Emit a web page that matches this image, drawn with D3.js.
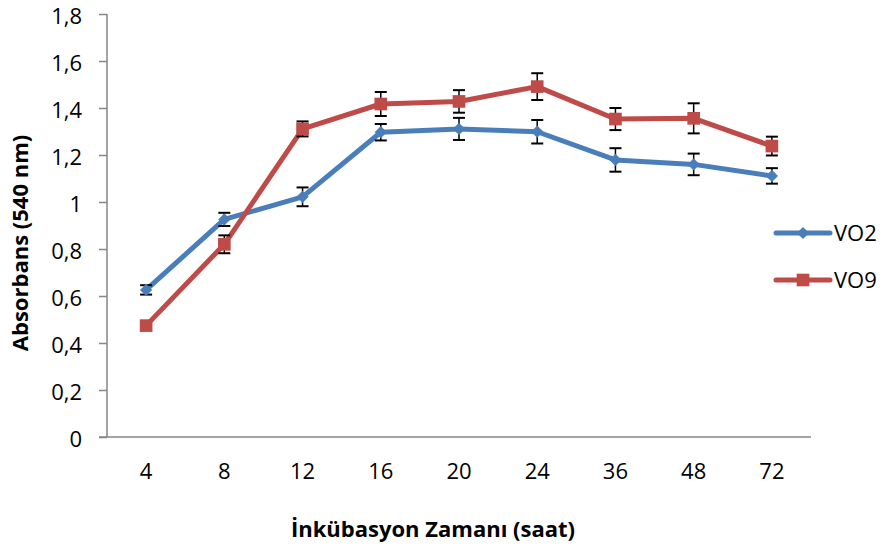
<!DOCTYPE html>
<html>
<head>
<meta charset="utf-8">
<script src="https://cdn.jsdelivr.net/npm/d3@7"></script>
<style>
  body { margin: 0; background: #fff; }
  text { font-family: "Open Sans", "Noto Sans", sans-serif; fill: #000; }
</style>
</head>
<body>
<script>
'use strict';

var hours   = ['4', '8', '12', '16', '20', '24', '36', '48', '72'];
var vo2     = [0.626, 0.926, 1.022, 1.297, 1.311, 1.299, 1.179, 1.160, 1.111];
var vo2Err  = [0.020, 0.028, 0.040, 0.035, 0.047, 0.050, 0.050, 0.046, 0.033];
var vo9     = [0.474, 0.820, 1.311, 1.417, 1.428, 1.491, 1.353, 1.356, 1.238];
var vo9Err  = [0.000, 0.038, 0.032, 0.051, 0.048, 0.057, 0.047, 0.064, 0.040];
var yTicks  = [0, 0.2, 0.4, 0.6, 0.8, 1, 1.2, 1.4, 1.6, 1.8];

var width  = 885;
var height = 548;

var series = [
  {name: 'VO2', values: vo2, err: vo2Err, color: '#4a7ebb', marker: 'diamond'},
  {name: 'VO9', values: vo9, err: vo9Err, color: '#be4b48', marker: 'square'}
];

var svg = d3.select('body').append('svg')
    .attr('width', width)
    .attr('height', height);

var x = d3.scaleBand()
    .domain(hours)
    .range([107, 811]);

var y = d3.scaleLinear()
    .domain([0, 1.8])
    .range([437, 14]);

var fmt = function(d) { return String(d).replace('.', ','); };

// y axis
var yAxis = svg.append('g')
    .attr('transform', 'translate(107,0)')
    .call(d3.axisLeft(y).tickValues(yTicks).tickSize(8).tickPadding(17).tickFormat(fmt));
yAxis.selectAll('line, path').attr('stroke', '#868686').attr('stroke-width', 1.5);
yAxis.select('.domain').attr('d', 'M0,' + y(1.8) + 'V' + y(0));
yAxis.selectAll('text').style('font-size', '22px').attr('fill', '#000').attr('dy', '0.42em');

// x axis
var xAxis = svg.append('g')
    .attr('transform', 'translate(0,437)')
    .call(d3.axisBottom(x).tickSize(0).tickPadding(26));
xAxis.select('.domain').attr('stroke', '#868686').attr('stroke-width', 1.5)
    .attr('d', 'M99,0H811');
xAxis.selectAll('text').style('font-size', '22px').attr('fill', '#000');

// axis titles
svg.append('text')
    .attr('x', 433)
    .attr('y', 537)
    .attr('text-anchor', 'middle')
    .style('font-size', '22px')
    .style('font-weight', 'bold')
    .text('İnkübasyon Zamanı (saat)');

svg.append('text')
    .attr('transform', 'translate(28,243) rotate(-90)')
    .attr('text-anchor', 'middle')
    .style('font-size', '22px')
    .style('font-weight', 'bold')
    .text('Absorbans (540 nm)');

var cx = function(i) { return x(hours[i]) + x.bandwidth() / 2; };

var line = d3.line()
    .x(function(d, i) { return cx(i); })
    .y(function(d) { return y(d); });

function marker(s) {
  return s.marker === 'diamond'
    ? d3.symbol().type(d3.symbolSquare).size(75)
    : d3.symbol().type(d3.symbolSquare).size(160);
}
function markerRot(s) { return s.marker === 'diamond' ? ' rotate(45)' : ''; }

series.forEach(function(s) {
  var g = svg.append('g');

  g.append('path')
    .datum(s.values)
    .attr('fill', 'none')
    .attr('stroke', s.color)
    .attr('stroke-width', 5)
    .attr('stroke-linejoin', 'round')
    .attr('d', line);

  // error bars
  var bars = s.values.map(function(v, i) { return {i: i, v: v, e: s.err[i]}; })
    .filter(function(d) { return d.e > 0; });

  var eb = g.selectAll('.err')
    .data(bars)
    .enter().append('g');

  eb.append('line')
    .attr('x1', function(d) { return cx(d.i); })
    .attr('x2', function(d) { return cx(d.i); })
    .attr('y1', function(d) { return y(d.v + d.e); })
    .attr('y2', function(d) { return y(d.v - d.e); })
    .attr('stroke', '#000').attr('stroke-width', 1.5);

  [1, -1].forEach(function(sign) {
    eb.append('line')
      .attr('x1', function(d) { return cx(d.i) - 6; })
      .attr('x2', function(d) { return cx(d.i) + 6; })
      .attr('y1', function(d) { return y(d.v + sign * d.e); })
      .attr('y2', function(d) { return y(d.v + sign * d.e); })
      .attr('stroke', '#000').attr('stroke-width', 2);
  });

  g.selectAll('.mk')
    .data(s.values)
    .enter().append('path')
    .attr('d', marker(s))
    .attr('fill', s.color)
    .attr('transform', function(d, i) {
      return 'translate(' + cx(i) + ',' + y(d) + ')' + markerRot(s);
    });
});

// legend
var legend = svg.append('g');
series.forEach(function(s, i) {
  var ly = 233 + i * 47;
  legend.append('line')
    .attr('x1', 776).attr('x2', 830)
    .attr('y1', ly).attr('y2', ly)
    .attr('stroke', s.color).attr('stroke-width', 5)
    .attr('stroke-linecap', 'round');
  legend.append('path')
    .attr('d', marker(s))
    .attr('fill', s.color)
    .attr('transform', 'translate(803,' + ly + ')' + markerRot(s));
  legend.append('text')
    .attr('x', 834).attr('y', ly)
    .attr('dy', '0.35em')
    .style('font-size', '22px')
    .text(s.name);
});
</script>
</body>
</html>
